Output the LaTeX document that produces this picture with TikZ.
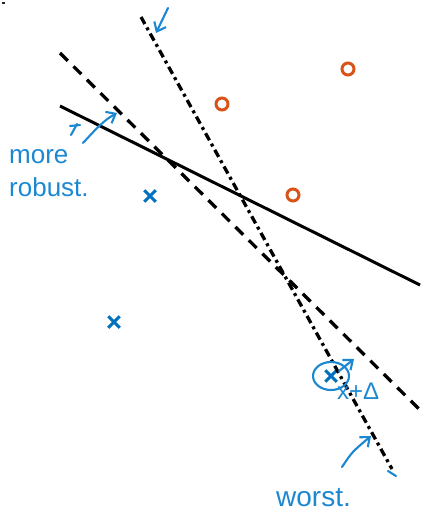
\documentclass[tikz,border=0pt]{standalone}
\usepackage{fontspec}
\setmainfont{Liberation Sans}
\usetikzlibrary{arrows.meta,shapes.misc}
\definecolor{ptblue}{RGB}{0,114,189}
\definecolor{ptorange}{RGB}{217,83,25}
\definecolor{pen}{RGB}{28,136,210}
\begin{document}
\begin{tikzpicture}[x=1pt, y=-1pt,
	cross/.style={draw=ptblue, cross out, line width=3pt, minimum size=8.5pt, inner sep=0pt},
	ring/.style={draw=ptorange, circle, line width=3pt, minimum size=12pt, inner sep=0pt},
	sepline/.style={line width=3pt, line cap=butt},
	hand/.style={pen, line width=2.1pt, line cap=round, line join=round},
	handtip/.style={hand, -{Straight Barb[length=8pt, width=13pt]}},
	note/.style={text=pen, inner sep=0pt, align=left}]
	\useasboundingbox (0,0) rectangle (423,511);
	\fill[black!85] (2,2) rectangle (4.5,4.5);
	
	% Datenpunkte
	\foreach \n/\x/\y in {x1/150/196, x2/114/322, x3/331/376}
		\node[cross] (\n) at (\x,\y) {};
	\foreach \n/\x/\y in {o1/222/104, o2/348/69, o3/293/195}
		\node[ring] (\n) at (\x,\y) {};
	
	% Trennlinien
	\coordinate (s1) at (60,106);   \coordinate (s2) at (420,285);
	\coordinate (d1) at (60,53);    \coordinate (d2) at (420,410);
	\coordinate (w1) at (141,17);   \coordinate (w2) at (392,469);
	\draw[sepline] (s1) -- (s2);
	\draw[sepline, line width=3.3pt, dash pattern=on 11pt off 8pt] (d1) -- (d2);
	\draw[sepline, line width=3.3pt, dash pattern=on 8pt off 4pt on 3pt off 4pt] (w1) -- (w2);
	
	% Notizen
	\node[note, font=\fontsize{26}{33}\selectfont, anchor=base west] (robust) at (9,196) {more\\robust.};
	\draw[hand] (71,135) -- (77,124) (70,126) -- (80,125);
	\draw[handtip] (83,143) .. controls (95,130) and (104,120) .. (117,113);
	\draw[handtip] (168,8) -- (156,33);
	
	\draw[hand] (x3) ellipse (18 and 14);
	\draw[handtip] (339,371) -- (354,359);
	\node[note, font=\fontsize{24}{28}\selectfont, anchor=base west] (delta) at (337,399) {x+Δ};
	
	\draw[handtip] (342,467) .. controls (352,452) .. (371,436);
	\draw[hand] (388,471) -- (396,476);
	\node[note, font=\fontsize{28}{32}\selectfont, anchor=base west] (worst) at (276,506) {worst.};
\end{tikzpicture}
\end{document}
